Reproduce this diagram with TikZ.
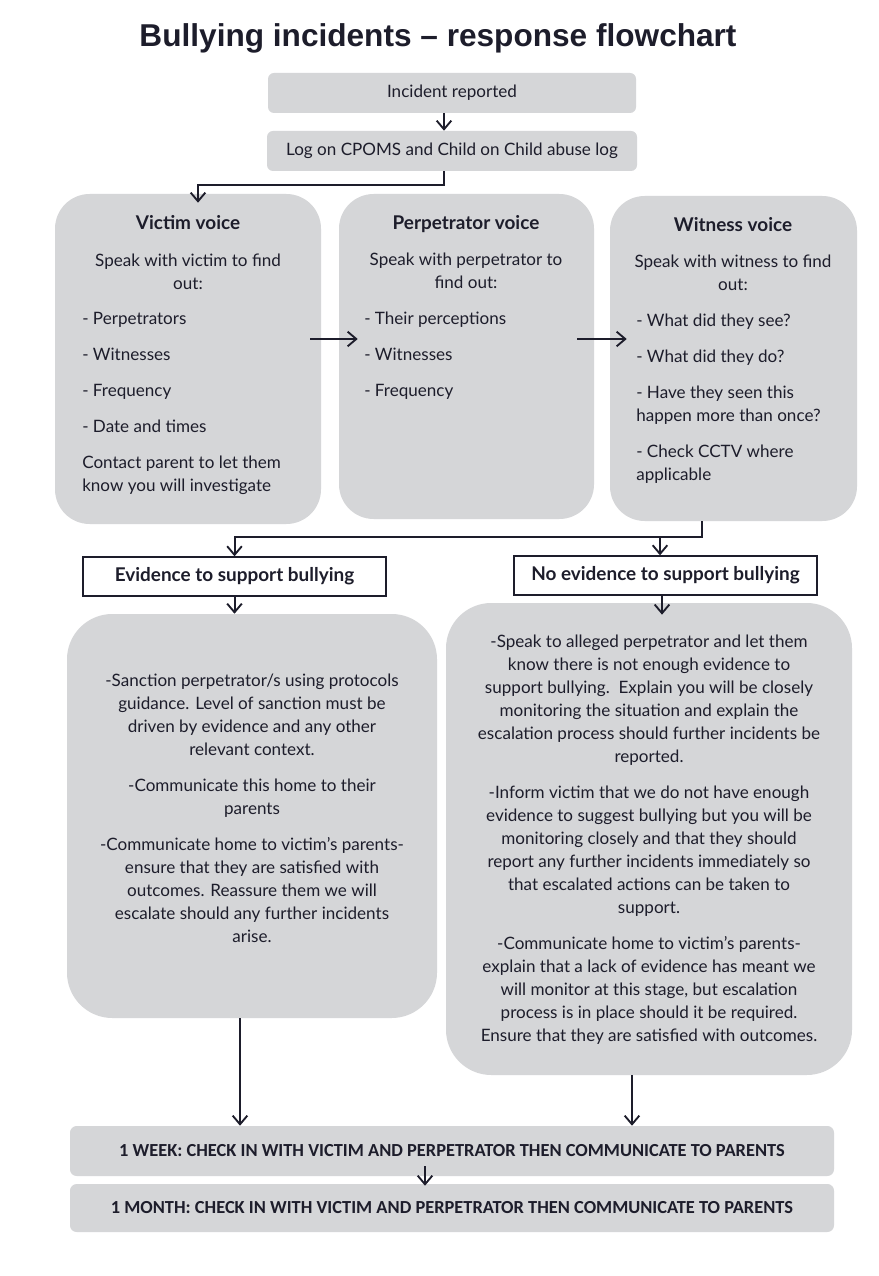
\documentclass[tikz,border=0pt]{standalone}
\usepackage{fontspec}
\setmainfont{Lato}
\newfontfamily\titlefont{Liberation Sans}
\newfontfamily\capsfont{Carlito}
\usetikzlibrary{arrows.meta, calc}

\definecolor{inkColor}{HTML}{1D1D2B}
\definecolor{boxColor}{HTML}{D5D6D8}

\begin{document}
\begin{tikzpicture}[x=0.75pt, y=-0.75pt]
            \tikzset{
                flowline/.style={
                    line width=1.5pt, draw=inkColor,
                    -{Straight Barb[length=6.5pt, width=11pt, line width=1.4pt]}
                },
                greybox/.style={fill=boxColor, draw=none, rounded corners=4.5pt, inner sep=0pt,
                    text=inkColor, font=\fontsize{12.8}{17.25}\selectfont},
                voicebox/.style={greybox, rounded corners=26pt},
                bigbox/.style={greybox, rounded corners=34pt},
                outcomebox/.style={draw=inkColor, line width=1pt, fill=white, inner sep=0pt,
                    text=inkColor, font=\bfseries\fontsize{14.2}{17}\selectfont},
                checkbox/.style={greybox, rounded corners=5pt,
                    font=\capsfont\bfseries\fontsize{13.8}{16}\selectfont},
                boxtext/.style={inner sep=0pt, text=inkColor, font=\fontsize{12.8}{17.25}\selectfont},
                headtext/.style={boxtext, font=\bfseries\fontsize{14.2}{17}\selectfont}
            }
            \useasboundingbox[fill=white] (0,0) rectangle (878,1276);

            % --- TITLE ---
            \node[anchor=base, inner sep=0pt, text=inkColor, font=\titlefont\bfseries\fontsize{23.7}{28}\selectfont]
                (title) at (438,47) {Bullying incidents \textendash{} response flowchart};

            % --- REPORT AND LOG ---
            \node[greybox, minimum width=276pt, minimum height=30pt] (incident) at (452,93) {Incident reported};
            \node[greybox, minimum width=277.5pt, minimum height=30pt] (log) at (452,151) {Log on CPOMS and Child on Child abuse log};

            % --- THE THREE VOICES ---
            \node[voicebox, minimum width=199.5pt, minimum height=247.5pt] (victim) at (188,359) {};
            \node[voicebox, minimum width=191.25pt, minimum height=243.75pt] (perp) at (466.5,356.5) {};
            \node[voicebox, minimum width=185.25pt, minimum height=243.75pt] (witness) at (733.5,358.5) {};

            % victim
            \node[headtext, anchor=base] (victimhead) at (188,230) {Victim voice};
            \node[boxtext, anchor=north, align=center] (victimask) at (188,254) {Speak with victim to find\\ out:};
            \node[boxtext, anchor=north west, align=left] (victimlist) at (82,312)
                {- Perpetrators\\[9.75pt] - Witnesses\\[9.75pt] - Frequency\\[9.75pt] - Date and times\\[9.75pt]
                 Contact parent to let them\\ know you will investigate};
            % perpetrator
            \node[headtext, anchor=base] (perphead) at (466,230) {Perpetrator voice};
            \node[boxtext, anchor=north, align=center] (perpask) at (466,253) {Speak with perpetrator to\\ find out:};
            \node[boxtext, anchor=north west, align=left] (perplist) at (364,312)
                {- Their perceptions\\[9.75pt] - Witnesses\\[9.75pt] - Frequency};
            % witness
            \node[headtext, anchor=base] (witnesshead) at (733,232) {Witness voice};
            \node[boxtext, anchor=north, align=center] (witnessask) at (733,255) {Speak with witness to find\\ out:};
            \node[boxtext, anchor=north west, align=left] (witnesslist) at (636,314)
                {- What did they see?\\[9.75pt] - What did they do?\\[9.75pt] - Have they seen this\\ happen more than once?\\[9.75pt]
                 - Check CCTV where\\ applicable};

            % --- OUTCOMES ---
            \node[outcomebox, minimum width=227.25pt, minimum height=29.25pt] (evid) at (234.5,576.5) {Evidence to support bullying};
            \node[outcomebox, minimum width=227.25pt, minimum height=29.25pt] (noevid) at (665.5,575.5) {No evidence to support bullying};

            \node[bigbox, minimum width=277.5pt, minimum height=303pt] (sanction) at (252,816) {};
            \node[boxtext, anchor=north, align=center] (sanctiontext) at (252,674)
                {-Sanction perpetrator/s using protocols\\ guidance. Level of sanction must be\\ driven by evidence and any other\\ relevant context.\\[9.75pt]
                 -Communicate this home to their\\ parents\\[9.75pt]
                 -Communicate home to victim's parents-\\ ensure that they are satisfied with\\ outcomes. Reassure them we will\\ escalate should any further incidents\\ arise.};

            \node[bigbox, minimum width=304.5pt, minimum height=354pt] (monitor) at (649,839) {};
            \node[boxtext, anchor=north, align=center] (monitortext) at (649,635)
                {-Speak to alleged perpetrator and let them\\ know there is not enough evidence to\\ support bullying.\ \ Explain you will be closely\\ monitoring the situation and explain the\\ escalation process should further incidents be\\ reported.\\[9.75pt]
                 -Inform victim that we do not have enough\\ evidence to suggest bullying but you will be\\ monitoring closely and that they should\\ report any further incidents immediately so\\ that escalated actions can be taken to\\ support.\\[9.75pt]
                 -Communicate home to victim's parents-\\ explain that a lack of evidence has meant we\\ will monitor at this stage, but escalation\\ process is in place should it be required.\\ Ensure that they are satisfied with outcomes.};

            % --- FOLLOW UP ---
            \node[checkbox, minimum width=573pt, minimum height=37.5pt] (week) at (452,1151)
                {1 WEEK: CHECK IN WITH VICTIM AND PERPETRATOR THEN COMMUNICATE TO PARENTS};
            \node[checkbox, minimum width=573pt, minimum height=36pt] (month) at (452,1208)
                {1 MONTH: CHECK IN WITH VICTIM AND PERPETRATOR THEN COMMUNICATE TO PARENTS};

            % --- CONNECTORS ---
            \draw[flowline] ([shift={(-8,0)}]incident.south) -- ([shift={(-8,0)}]log.north);
            \draw[flowline] ([shift={(-8,0)}]log.south) -- ++(0,14) -| ([shift={(10,9)}]victim.north);
            \draw[flowline] ([shift={(-11,-20)}]victim.east) -- ([shift={(19,-17.5)}]perp.west);
            \draw[flowline] ([shift={(-17,-17.5)}]perp.east) -- ([shift={(17,-19.5)}]witness.west);

            \draw[flowline] ([shift={(-31.5,0)}]witness.south) -- ++(0,16) coordinate (split) -| (evid.north);
            \coordinate (noevidin) at ([shift={(-5.5,0)}]noevid.north);
            \draw[flowline] (noevidin |- split) -- (noevidin);

            \draw[flowline] (evid.south) -- (evid.south |- sanction.north);
            \draw[flowline] ([shift={(-3.5,0)}]noevid.south) -- ++(0,19);

            \coordinate (sanctionout) at ([shift={(-12,0)}]sanction.south);
            \coordinate (monitorout) at ([shift={(-17,0)}]monitor.south);
            \draw[flowline] (sanctionout) -- (sanctionout |- week.north);
            \draw[flowline] (monitorout) -- (monitorout |- week.north);
            \draw[flowline] ([shift={(-27,-10)}]week.south) -- ([shift={(-27,2)}]month.north);
        \end{tikzpicture}
\end{document}
